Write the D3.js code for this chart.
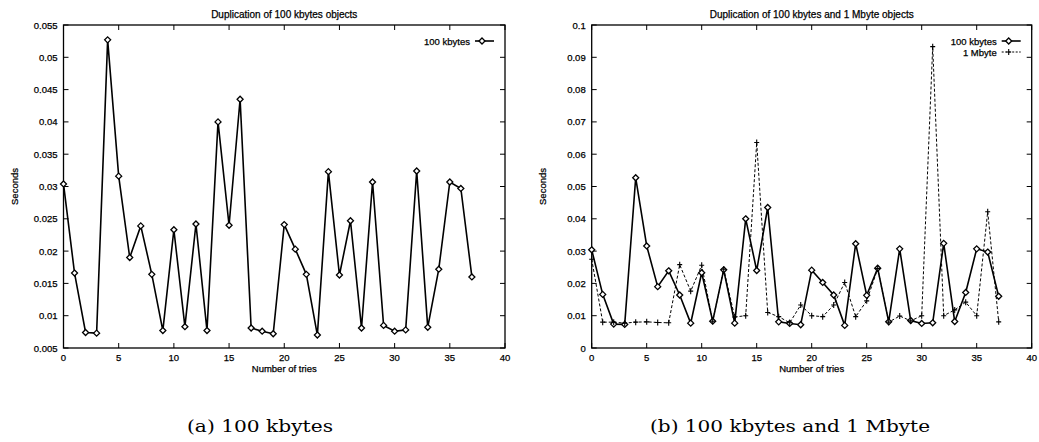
<!DOCTYPE html>
<html><head><meta charset="utf-8">
<script src="https://cdn.jsdelivr.net/npm/d3@7"></script>
<style>
body{margin:0;background:#fff;}
text{font-family:"Liberation Sans",Arial,sans-serif;fill:#000;stroke:#000;stroke-width:0.25px;}
text.cap{stroke:none;}
</style></head>
<body><svg id="c" width="1039" height="442"></svg>
<script>
const tries = [0,1,2,3,4,5,6,7,8,9,10,11,12,13,14,15,16,17,18,19,20,21,22,23,24,25,26,27,28,29,30,31,32,33,34,35,36,37];
const kb100 = [0.0304,0.0166,0.0074,0.0073,0.0527,0.0316,0.0190,0.0239,0.0164,0.0077,0.0233,0.0083,0.0242,0.0077,0.0400,0.0240,0.0435,0.0081,0.0076,0.0072,0.0241,0.0203,0.0164,0.0070,0.0323,0.0163,0.0247,0.0081,0.0307,0.0085,0.0076,0.0078,0.0324,0.0082,0.0172,0.0307,0.0297,0.0160];
const mb1 = [0.0275,0.0080,0.0080,0.0077,0.0080,0.0081,0.0079,0.0078,0.0258,0.0176,0.0256,0.0083,0.0244,0.0096,0.0100,0.0636,0.0110,0.0097,0.0078,0.0133,0.0100,0.0097,0.0133,0.0203,0.0097,0.0146,0.0246,0.0080,0.0099,0.0084,0.0100,0.0933,0.0100,0.0118,0.0142,0.0100,0.0422,0.0081];
const xTicks = [0,5,10,15,20,25,30,35,40];
const yTicksA = [0.005,0.01,0.015,0.02,0.025,0.03,0.035,0.04,0.045,0.05,0.055];
const yTicksB = [0,0.01,0.02,0.03,0.04,0.05,0.06,0.07,0.08,0.09,0.1];
const titleA = "Duplication of 100 kbytes objects";
const titleB = "Duplication of 100 kbytes and 1 Mbyte objects";
const captionA = "(a) 100 kbytes";
const captionB = "(b) 100 kbytes and 1 Mbyte";
const nameKb = "100 kbytes", nameMb = "1 Mbyte";

const svg = d3.select("#c");

function diamond(g, x, y){
  g.append("path").attr("d", `M${x},${y-3}L${x+3},${y}L${x},${y+3}L${x-3},${y}Z`)
   .attr("fill","#fff").attr("stroke","#000").attr("stroke-width",1.3);
}
function plus(g, x, y){
  g.append("path").attr("d", `M${x-2.5},${y}H${x+2.5}M${x},${y-3}V${y+3}`)
   .attr("fill","none").attr("stroke","#000").attr("stroke-width",1.1);
}

function chart(opt){
  const g = svg.append("g");
  const x = d3.scaleLinear().domain([0,40]).range([opt.x0, opt.x1]);
  const y = d3.scaleLinear().domain(opt.yDomain).range([opt.y1, opt.y0]);
  const tl = 5;
  const ax = g.append("g").attr("font-size", 9.5);
  xTicks.forEach(t=>{
    const px = x(t);
    ax.append("line").attr("x1",px).attr("x2",px).attr("y1",opt.y1).attr("y2",opt.y1-tl).attr("stroke","#000");
    ax.append("line").attr("x1",px).attr("x2",px).attr("y1",opt.y0).attr("y2",opt.y0+tl).attr("stroke","#000");
    ax.append("text").attr("x",px).attr("y",opt.y1+12.5).attr("text-anchor","middle").text(t);
  });
  opt.yTicks.forEach(t=>{
    const py = y(t);
    ax.append("line").attr("x1",opt.x0).attr("x2",opt.x0+tl).attr("y1",py).attr("y2",py).attr("stroke","#000");
    ax.append("line").attr("x1",opt.x1).attr("x2",opt.x1-tl).attr("y1",py).attr("y2",py).attr("stroke","#000");
    ax.append("text").attr("x",opt.x0-6).attr("y",py+3.5).attr("text-anchor","end").text(String(+t.toFixed(4)));
  });
  g.append("rect").attr("x",opt.x0).attr("y",opt.y0).attr("width",opt.x1-opt.x0).attr("height",opt.y1-opt.y0)
   .attr("fill","none").attr("stroke","#000").attr("stroke-width",1.3);
  g.append("text").attr("x",(opt.x0+opt.x1)/2).attr("y",opt.y0-7).attr("text-anchor","middle").attr("font-size",10).text(opt.title);
  g.append("text").attr("x",(opt.x0+opt.x1)/2).attr("y",opt.y1+24).attr("text-anchor","middle").attr("font-size",9.5).text("Number of tries");
  g.append("text").attr("transform",`translate(${opt.x0-45.5},${(opt.y0+opt.y1)/2}) rotate(-90)`).attr("text-anchor","middle").attr("font-size",9.5).text("Seconds");
  g.append("text").attr("class","cap").attr("x",opt.capX).attr("y",432).attr("text-anchor","middle")
   .style("font-family","'DejaVu Serif','Liberation Serif',serif").attr("font-size",17)
   .attr("textLength",opt.capW).attr("lengthAdjust","spacingAndGlyphs").text(opt.caption);
  const line = d3.line().x((d,i)=>x(tries[i])).y(d=>y(d));
  opt.series.forEach(s=>{
    g.append("path").datum(s.values).attr("d",line).attr("fill","none").attr("stroke","#000")
     .attr("stroke-width", s.dash ? 1 : 1.6).attr("stroke-dasharray", s.dash ? "3,2" : null).attr("stroke-linejoin","miter");
  });
  opt.series.forEach((s,k)=>{
    s.values.forEach((v,i)=> s.mark(g, x(tries[i]), y(v)));
    const ly = opt.y0 + 16 + k*11;
    const lx = opt.x1 - 35;
    g.append("text").attr("x",lx).attr("y",ly+3.5).attr("text-anchor","end").attr("font-size",9.5).text(s.name);
    g.append("line").attr("x1",lx+5).attr("x2",lx+24).attr("y1",ly).attr("y2",ly).attr("stroke","#000")
     .attr("stroke-width", s.dash ? 1 : 1.6).attr("stroke-dasharray", s.dash ? "2,1.5" : null);
    s.mark(g, lx+12, ly);
  });
}

chart({x0:63.5, x1:505, y0:25, y1:348, yDomain:[0.005,0.055], yTicks:yTicksA, title:titleA, caption:captionA, capX:260, capW:146,
  series:[{name:nameKb, values:kb100, mark:diamond, dash:false}]});
chart({x0:591.7, x1:1031.7, y0:25, y1:348, yDomain:[0,0.1], yTicks:yTicksB, title:titleB, caption:captionB, capX:790, capW:280,
  series:[{name:nameKb, values:kb100, mark:diamond, dash:false},{name:nameMb, values:mb1, mark:plus, dash:true}]});
</script></body></html>
